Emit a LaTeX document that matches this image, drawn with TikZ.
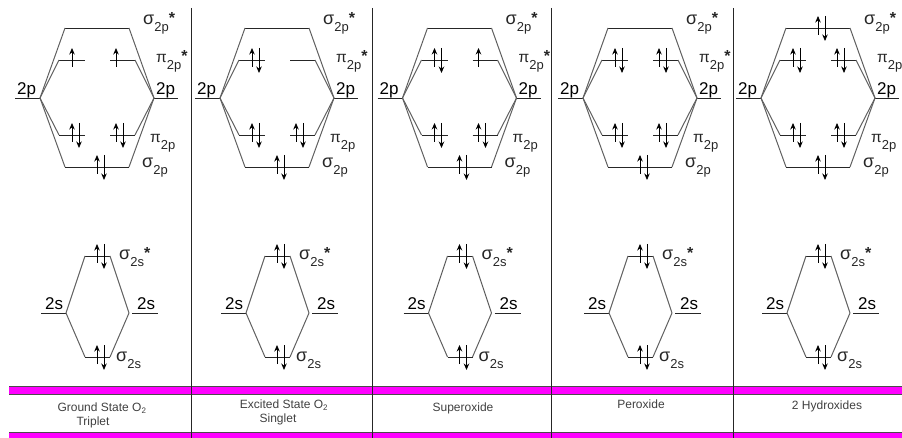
\documentclass[tikz,border=0pt]{standalone}
\usepackage{fontspec}
\setmainfont{Liberation Sans}
\usetikzlibrary{arrows.meta}
\definecolor{band}{HTML}{FF00FF}
\definecolor{bond}{HTML}{606060}
\newcommand{\orb}[3]{#1\raisebox{-7pt}{\fontsize{13}{13}\selectfont #2}\raisebox{1pt}{\fontsize{16}{16}\selectfont\bfseries #3}}
\newcommand{\orbpi}{{\fontsize{15.5}{15.5}\selectfont π}}
% one electron pair on a level: up at +0, down at +dx
\newcommand{\spinup}[2]{\draw[spin] ([shift={(#2,7)}]#1) -- ([shift={(#2,-12)}]#1);}
\newcommand{\spindown}[2]{\draw[spin] ([shift={(#2,-12)}]#1) -- ([shift={(#2,13)}]#1);}
\newcommand{\spinpair}[2]{\spinup{#1}{#2}\spindown{#1}{#2+7}}

\begin{document}
\begin{tikzpicture}[x=1pt,y=-1pt,
    level/.style={line width=0.9pt, black!85},
    mix/.style={line width=1pt, bond},
    spin/.style={line width=0.8pt, black, -{Stealth[length=6.5pt,width=5.5pt]}},
    atom/.style={font=\fontsize{17}{17}\selectfont, anchor=base west, inner sep=0pt},
    orbital/.style={font=\fontsize{18}{18}\selectfont, text=black!85, anchor=base west, inner sep=0pt},
    caption/.style={font=\fontsize{12}{14}\selectfont, text=black!75, align=center, inner sep=0pt},
    sep/.style={line width=0.9pt, black!85}]
  \useasboundingbox (0,0) rectangle (902,438);

  % bands
  \fill[band] (9,386) rectangle (902,394.5);
  \fill[band] (9,432) rectangle (902,438);
  \draw[line width=0.8pt, black!70] (9,386) -- (902,386) (9,394.5) -- (902,394.5) (9,432) -- (902,432);

  \foreach \name/\sepx in {a/191.5, b/372, c/551.5, d/733} {
    \coordinate (top\name) at (\sepx,8);
    \coordinate (bot\name) at (\sepx,438);
    \draw[sep] (top\name) -- (bot\name);
  }

  % five diagrams, same levels
  \foreach \p/\dx/\pistar in {1/0/*, 2/180/*, 3/362.5/*, 4/543/*, 5/721/{}} {
    \begin{scope}[shift={(\dx,0)}]
      % 2p atoms
      \coordinate (L\p) at (40,98);
      \coordinate (Lo\p) at (15,98);
      \coordinate (R\p) at (154,98);
      \coordinate (Ro\p) at (178,98);
      \draw[level] (Lo\p) -- (L\p) (R\p) -- (Ro\p);
      % sigma 2p
      \coordinate (sA\p) at (65,28);
      \coordinate (sB\p) at (129,28);
      \coordinate (sC\p) at (65,167);
      \coordinate (sD\p) at (129,167);
      \draw[level] (sA\p) -- (sB\p) (sC\p) -- (sD\p);
      \draw[mix] (L\p) -- (sA\p) (sB\p) -- (R\p) (L\p) -- (sC\p) (sD\p) -- (R\p);
      % pi 2p
      \coordinate (pA\p) at (59,60);
      \coordinate (pB\p) at (85,60);
      \coordinate (pC\p) at (110,60);
      \coordinate (pD\p) at (135,60);
      \coordinate (pE\p) at (59,135);
      \coordinate (pF\p) at (85,135);
      \coordinate (pG\p) at (110,135);
      \coordinate (pH\p) at (135,135);
      \draw[level] (pA\p) -- (pB\p) (pC\p) -- (pD\p) (pE\p) -- (pF\p) (pG\p) -- (pH\p);
      \draw[mix] (L\p) -- (pA\p) (pD\p) -- (R\p) (L\p) -- (pE\p) (pH\p) -- (R\p);
      % 2s atoms
      \coordinate (l\p) at (66,313);
      \coordinate (lo\p) at (41,313);
      \coordinate (r\p) at (129,313);
      \coordinate (ro\p) at (158,313);
      \coordinate (rs\p) at (132,313);
      \draw[level] (lo\p) -- (l\p) (rs\p) -- (ro\p);
      \coordinate (tA\p) at (85,256);
      \coordinate (tB\p) at (110,256);
      \coordinate (tC\p) at (85,357);
      \coordinate (tD\p) at (110,357);
      \draw[level] (tA\p) -- (tB\p) (tC\p) -- (tD\p);
      \draw[mix] (l\p) -- (tA\p) (tB\p) -- (r\p) (l\p) -- (tC\p) (tD\p) -- (r\p);
      % labels
      \node[atom] (n2pL\p) at (17,95) {2p};
      \node[atom] (n2pR\p) at (156,95) {2p};
      \node[atom] (n2sL\p) at (45,309) {2s};
      \node[atom] (n2sR\p) at (137,309) {2s};
      \node[orbital] (sgA\p) at (143,25) {\orb{σ}{2p}{*}};
      \node[orbital] (piA\p) at (156,63) {\orb{\orbpi}{2p}{\pistar}};
      \node[orbital] (piB\p) at (150,143) {\orb{\orbpi}{2p}{}};
      \node[orbital] (sgB\p) at (142,168) {\orb{σ}{2p}{}};
      \node[orbital] (sgC\p) at (119,260) {\orb{σ}{2s}{*}};
      \node[orbital] (sgD\p) at (116,361) {\orb{σ}{2s}{}};
      % filled in every diagram
      \coordinate (e\p) at (97,167);
      \spinpair{e\p}{0}
      \coordinate (f\p) at (72,135);
      \spinpair{f\p}{0}
      \coordinate (g\p) at (116,135);
      \spinpair{g\p}{0}
      \coordinate (h\p) at (97,256);
      \spinpair{h\p}{0}
      \coordinate (k\p) at (97,357);
      \spinpair{k\p}{0}
      \coordinate (m\p) at (72,60);
      \coordinate (n\p) at (116,60);
      \coordinate (q\p) at (97,28);
    \end{scope}
  }

  % pi* and sigma* differ
  \spinup{m1}{0}
  \spinup{n1}{0}
  \spinpair{m2}{0}
  \spinpair{m3}{0}
  \spinup{n3}{0}
  \spinpair{m4}{0}
  \spinpair{n4}{0}
  \spinpair{m5}{0}
  \spinpair{n5}{0}
  \spinpair{q5}{0}

  % captions
  \node[caption] (cap1a) at (102,408) {Ground State O\textsubscript{2}};
  \node[caption] (cap1b) at (93,422) {Triplet};
  \node[caption] (cap2a) at (284,405) {Excited State O\textsubscript{2}};
  \node[caption] (cap2b) at (278,419) {Singlet};
  \node[caption] (cap3) at (463,408) {Superoxide};
  \node[caption] (cap4) at (641,404) {Peroxide};
  \node[caption] (cap5) at (827,406) {2 Hydroxides};
\end{tikzpicture}
\end{document}
